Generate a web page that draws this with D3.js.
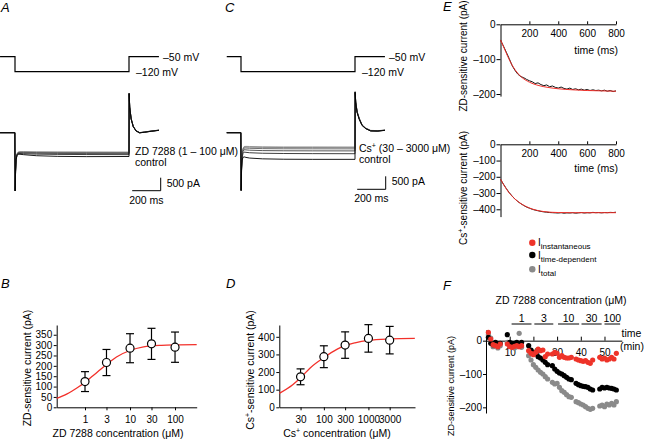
<!DOCTYPE html>
<html><head><meta charset="utf-8">
<script src="https://cdn.jsdelivr.net/npm/d3@7"></script>
<style>
body{margin:0;background:#fff}
svg{display:block;font-family:"Liberation Sans",Arial,sans-serif}
.axis path,.axis line{stroke:#000;stroke-width:1}
.axis text{font-size:10px;font-family:"Liberation Sans",Arial,sans-serif;fill:#000}
</style></head><body>
<svg id="c" width="654" height="441"></svg>
<script>
// ---------- DATA ----------
// Panels A / C : voltage protocol and current traces (time in ms, current in pA relative to holding)
const voltTime = [-105, 0, 800, 1010];
const voltLevel = [-50, -120, -50, -50];
const traceTime = [-105, -1, 1, 4, 8, 14, 22, 35, 60, 150, 300, 500, 800, 801, 805, 815, 830, 850, 875, 910, 960, 1010];
const zdTraces = [
  [0,0,-2240,-1450,-980,-810,-745,-730,-728,-735,-740,-742,-745, 1525,1000,550,250,80,5,30,70,100],
  [0,0,-2240,-1460,-990,-820,-755,-742,-740,-748,-752,-755,-758, 1520,995,545,245,78,3,28,68,98],
  [0,0,-2240,-1470,-1000,-830,-768,-756,-756,-765,-770,-772,-775, 1515,990,540,240,74,0,25,65,96],
  [0,0,-2240,-1480,-1010,-845,-785,-775,-778,-790,-798,-802,-805, 1510,985,535,236,70,-2,22,62,94],
  [0,0,-2240,-1490,-1025,-860,-805,-800,-808,-825,-835,-840,-845, 1505,980,530,232,66,-4,20,60,92]
];
const ctrlTraceA = [0,0,-2240,-1500,-1040,-880,-830,-830,-845,-885,-910,-920,-915, 1500,975,525,228,62,-6,18,56,90];
const csTraces = [
  [0,0,-2220,-1300,-820,-610,-530,-525,-530,-540,-545,-545,-548, 1580,1200,820,560,300,180,90,80,100],
  [0,0,-2220,-1310,-830,-625,-550,-548,-555,-565,-570,-572,-575, 1575,1190,810,550,295,175,85,76,98],
  [0,0,-2220,-1330,-860,-660,-590,-590,-600,-612,-618,-620,-622, 1570,1180,800,540,290,170,80,72,96],
  [0,0,-2220,-1360,-900,-720,-655,-660,-672,-688,-695,-698,-700, 1565,1170,790,530,285,165,75,68,94],
  [0,0,-2220,-1400,-950,-800,-745,-755,-770,-790,-800,-805,-808, 1560,1160,780,520,280,160,70,64,92]
];
const ctrlTraceC = [0,0,-2220,-1450,-1050,-950,-930,-950,-975,-1005,-1020,-1025,-1025, 1550,1150,770,510,275,155,65,60,90];

// Panel B : ZD 7288 dose-response
const zdConc = [1, 3, 10, 30, 100];
const zdMean = [124, 216, 285, 306, 290];
const zdErr = [48, 63, 70, 75, 73];
const zdFitConc = [0.235, 0.4, 0.7, 1, 1.5, 2, 3, 5, 10, 20, 50, 100, 303];
const zdFitVal = [43, 65, 97, 120, 152, 175, 207, 243, 274, 291, 299, 301, 302];
const zdYTicks = [0, 50, 100, 150, 200, 250, 300, 350];

// Panel D : Cs+ dose-response
const csConc = [30, 100, 300, 1000, 3000];
const csMean = [173, 287, 353, 391, 381];
const csErr = [45, 62, 75, 78, 78];
const csFitConc = [10, 20, 30, 50, 100, 200, 300, 500, 1000, 3000, 11000];
const csFitVal = [79, 128, 168, 225, 282, 330, 350, 366, 380, 388, 391];
const csYTicks = [0, 100, 200, 300, 400];

// Panel E : sensitive currents vs time (ms)
const eTime = [0,20,40,60,80,100,120,140,160,180,200,220,240,260,280,300,320,340,360,380,400,420,440,460,480,500,520,540,560,580,600,620,640,660,680,700,720,740,760,780,800];
const zdSens = [-45,-62,-80,-98,-118,-132,-143,-150,-153,-158,-162,-165,-170,-168,-173,-176,-174,-179,-177,-181,-183,-180,-184,-186,-183,-187,-185,-188,-186,-189,-187,-190,-188,-190,-189,-191,-189,-192,-190,-193,-191];
const csSens = [-215,-245,-272,-297,-318,-337,-352,-365,-376,-386,-393,-400,-405,-409,-413,-416,-418,-420,-421,-422,-423,-421,-424,-422,-423,-421,-424,-422,-420,-423,-421,-422,-419,-421,-420,-422,-420,-421,-419,-420,-418];
const zdFitTime = [0,25,50,75,100,125,150,200,250,300,400,500,600,700,800];
const zdFitCur = [-45,-68,-92,-113,-130,-143,-153,-166,-174,-179,-185,-188,-190,-191,-192];
const csFitTime = [0,50,100,150,200,250,300,400,500,800];
const csFitCur = [-215,-287,-337,-370,-392,-406,-414,-420,-421,-421];
const eXTicks = [200, 400, 600, 800];

// Panel F : time course (min)
const fTime = [1,2,3,4,5,6, 9,10,11,12,13,14,15, 18,19,20,21,22,23,24,25,26, 28,29,30,31,32,33,34,35,36, 38,39,40,41,42,43,44,45, 48,49,50,51,52,53,54,55];
const fInst = [25,5,-12,-15,-18,-10, -10,-18,-20,-17,-15,-18,-15, -30,-38,-42,-35,-25,-30,-28,-48,-40, -40,-35,-38,-50,-45,-50,-52,-52,-50, -55,-58,-60,-62,-60,-65,-68,-58, -50,-55,-52,-58,-55,-50,-55,-38];
const fTimeDep = [10,-8,-12,-5,-10,-8, 18,-5,-8,-8,-5,-10,-5, -15,-28,-35,-40,-48,-52,-58,-65,-72, -75,-85,-92,-97,-100,-105,-110,-115,-117, -128,-132,-135,-137,-138,-140,-145,-148, -145,-140,-142,-140,-142,-143,-145,-148];
const fTotal = [18,8,-18,-12,-22,-15, -5,-15,-20,-22,-18,22,-20, -45,-58,-72,-80,-88,-95,-100,-108,-115, -125,-130,-128,-140,-150,-155,-162,-168,-170, -183,-186,-190,-193,-198,-203,-206,-203, -196,-193,-198,-190,-193,-188,-193,-183];
const concLabels = ["1", "3", "10", "30", "100"];
const concStart = [10.8, 20.4, 30.4, 40.3, 50];
const concEnd = [19.2, 28.4, 39.3, 48.8, 56.6];
const fXTicks = [10, 20, 30, 40, 50];
const fYTicks = [0, -100, -200];

const legendNames = ["instantaneous", "time-dependent", "total"];
const legendColors = ["#ee3329", "#000000", "#8a8a8a"];

// ---------- DRAWING ----------
const svg = d3.select("#c");
const RED = "#f2302a";

function text(x, y, s, o = {}) {
  const t = svg.append("text").attr("x", x).attr("y", y)
    .attr("font-size", o.size || 10.5).attr("fill", "#000")
    .attr("text-anchor", o.anchor || "start").text(s);
  if (o.italic) t.attr("font-style", "italic");
  if (o.rotate) t.attr("transform", `rotate(-90,${x},${y})`);
  return t;
}
function line(x1, y1, x2, y2, w = 1, c = "#000") {
  svg.append("line").attr("x1", x1).attr("y1", y1).attr("x2", x2).attr("y2", y2)
    .attr("stroke", c).attr("stroke-width", w);
}

// panel letters
[["A",1,12],["C",225,12],["E",443,11],["B",1,288],["D",226,288],["F",443,290]].forEach(d =>
  text(d[1], d[2], d[0], {size: 13, italic: true}));

// ---- Panels A and C ----
function tracePanel(x0, xStart, traces, ctrl, sb, labels) {
  const x = d3.scaleLinear().domain([xStart, 1010]).range([x0 + xStart * 0.1425, x0 + 1010 * 0.1425]);
  const yV = d3.scaleLinear().domain([-50, -120]).range([56.7, 71.7]);
  const yI = d3.scaleLinear().domain([0, -500]).range([132.7, 145.7]);
  const vPts = voltTime.map((t, i) => [Math.max(t, xStart), voltLevel[i]]);
  svg.append("path").attr("d", d3.line().x(d => x(d[0])).y(d => yV(d[1])).curve(d3.curveStepAfter)(vPts))
    .attr("fill", "none").attr("stroke", "#000").attr("stroke-width", 1.2);
  const lg = d3.line().x(d => x(Math.max(d[0], xStart))).y(d => yI(d[1]));
  const greys = ["#9a9a9a", "#7d7d7d", "#5e5e5e", "#444", "#2a2a2a"];
  traces.forEach((tr, k) => {
    svg.append("path").attr("d", lg(traceTime.map((t, i) => [t, tr[i]])))
      .attr("fill", "none").attr("stroke", greys[k]).attr("stroke-width", 0.9);
  });
  svg.append("path").attr("d", lg(traceTime.map((t, i) => [t, ctrl[i]])))
    .attr("fill", "none").attr("stroke", "#000").attr("stroke-width", 0.9);
  // scale bar 500 pA / 200 ms
  const bx = sb[0], by = sb[1];
  const h = yI(-500) - yI(0), w = x(200) - x(0);
  line(bx, by - h, bx, by); line(bx - w, by, bx, by);
  text(bx + 6, by - 4, "500 pA");
  text(bx - w - 3, by + 13, "200 ms");
  text(x(800) + 34, 60.5, "\u201350 mV");
  text(x(800) + 7, 75.8, "\u2013120 mV");
  labels();
}
tracePanel(15, -105, zdTraces, ctrlTraceA, [160.7, 190.7], () => {
  text(135, 155, "ZD 7288 (1 \u2013 100 \u03bcM)");
  text(135, 165.5, "control");
});
tracePanel(241, -100, csTraces, ctrlTraceC, [385.7, 189.3], () => {
  const t = text(359, 151.5, "Cs");
  t.append("tspan").attr("dy", -4).attr("font-size", 7).text("+");
  t.append("tspan").attr("dy", 4).text(" (30 \u2013 3000 \u03bcM)");
  text(359, 163, "control");
});

// ---- Panels B and D ----
function dosePanel(o) {
  const x = d3.scaleLog().domain(o.xDom).range(o.xRange);
  const y = d3.scaleLinear().domain([0, o.yMax]).range([407.3, 325]);
  const g = svg.append("g");
  g.append("g").attr("class", "axis").attr("transform", "translate(0,407.3)")
    .call(d3.axisBottom(x).tickValues(o.conc).tickFormat(d3.format("d")).tickSize(3).tickSizeOuter(0).tickPadding(6));
  g.append("g").attr("class", "axis").attr("transform", `translate(${o.xRange[0]},0)`)
    .call(d3.axisLeft(y).tickValues(o.yTicks).tickSize(3).tickSizeOuter(0).tickPadding(1.5));
  svg.append("path").attr("d", d3.line().x(d => x(d[0])).y(d => y(d[1])).curve(d3.curveMonotoneX)(o.fitC.map((c, i) => [c, o.fitV[i]])))
    .attr("fill", "none").attr("stroke", RED).attr("stroke-width", 1.3);
  o.conc.forEach((c, i) => {
    const cx = x(c), y1 = y(o.mean[i] + o.err[i]), y2 = y(o.mean[i] - o.err[i]);
    line(cx, y1, cx, y2, 1.2); line(cx - 4, y1, cx + 4, y1, 1.2); line(cx - 4, y2, cx + 4, y2, 1.2);
    svg.append("circle").attr("cx", cx).attr("cy", y(o.mean[i])).attr("r", 4)
      .attr("fill", "#fff").attr("stroke", "#000").attr("stroke-width", 1.2);
  });
  o.labels();
}
dosePanel({xDom: [0.235, 303], xRange: [56.7, 196.7], yMax: 397, conc: zdConc, mean: zdMean, err: zdErr,
  fitC: zdFitConc, fitV: zdFitVal, yTicks: zdYTicks, labels: () => {
    text(118, 437, "ZD 7288 concentration (\u03bcM)", {anchor: "middle"});
    text(30.5, 368, "ZD-sensitive current (pA)", {anchor: "middle", rotate: true});
  }});
dosePanel({xDom: [10, 11100], xRange: [279.3, 415], yMax: 467, conc: csConc, mean: csMean, err: csErr,
  fitC: csFitConc, fitV: csFitVal, yTicks: csYTicks, labels: () => {
    const t = text(337, 437, "Cs", {anchor: "middle"});
    t.append("tspan").attr("dy", -4).attr("font-size", 7).text("+");
    t.append("tspan").attr("dy", 4).text(" concentration (\u03bcM)");
    const r = text(253.5, 370, "Cs", {anchor: "middle", rotate: true});
    r.append("tspan").attr("dy", -4).attr("font-size", 7).text("+");
    r.append("tspan").attr("dy", 4).text("-sensitive current (pA)");
  }});

// ---- Panel E ----
const xE = d3.scaleLinear().domain([0, 800]).range([500.5, 616]);
function ePanel(y, yTicks, trace, fitT, fitV) {
  svg.append("g").attr("class", "axis").attr("transform", `translate(500.5,0)`)
    .call(d3.axisLeft(y).tickValues(yTicks).tickFormat(d => d === 0 ? "0" : "\u2013" + Math.abs(d)).tickSize(4).tickSizeOuter(0).tickPadding(1));
  svg.append("g").attr("class", "axis").attr("transform", `translate(0,${y(0)})`)
    .call(d3.axisBottom(xE).tickValues(eXTicks).tickSize(-3).tickSizeOuter(0).tickPadding(6));
  svg.append("path").attr("d", d3.line().x((d, i) => xE(eTime[i])).y(d => y(d))(trace))
    .attr("fill", "none").attr("stroke", "#111").attr("stroke-width", 1);
  svg.append("path").attr("d", d3.line().x((d, i) => xE(fitT[i])).y(d => y(d)).curve(d3.curveMonotoneX)(fitV))
    .attr("fill", "none").attr("stroke", RED).attr("stroke-width", 1);
}
const yE1 = d3.scaleLinear().domain([0, -206]).range([24.3, 96.1]);
const yE2 = d3.scaleLinear().domain([0, -445]).range([144.3, 216.6]);
ePanel(yE1, [0, -100, -200], zdSens, zdFitTime, zdFitCur);
ePanel(yE2, [0, -100, -200, -300, -400], csSens, csFitTime, csFitCur);
text(618, 54, "time (ms)", {anchor: "end"});
text(618, 172, "time (ms)", {anchor: "end"});
text(467, 56, "ZD-sensitive current (pA)", {anchor: "middle", rotate: true, size: 10});
{
  const r = text(467, 188, "Cs", {anchor: "middle", rotate: true, size: 10});
  r.append("tspan").attr("dy", -4).attr("font-size", 7).text("+");
  r.append("tspan").attr("dy", 4).text("-sensitive current (pA)");
}

// legend
legendNames.forEach((n, i) => {
  const yy = [242.7, 255, 269.3][i];
  svg.append("circle").attr("cx", 532.3).attr("cy", yy).attr("r", 3.2).attr("fill", legendColors[i]);
  const t = text(538, yy + 3.5, "I", {size: 10});
  t.append("tspan").attr("dy", 3).attr("font-size", 8).text(n);
});

// ---- Panel F ----
const xF = d3.scaleLinear().domain([0, 57.3]).range([486, 621.8]);
const yF = d3.scaleLinear().domain([32, -217]).range([330, 413]);
svg.append("g").attr("class", "axis").attr("transform", "translate(486,0)")
  .call(d3.axisLeft(yF).tickValues(fYTicks).tickFormat(d => d === 0 ? "0" : "\u2013" + Math.abs(d)).tickSize(3).tickSizeOuter(0).tickPadding(1));
svg.append("g").attr("class", "axis").attr("transform", `translate(0,${yF(0)})`)
  .call(d3.axisBottom(xF).tickValues(fXTicks).tickSize(-4).tickSizeOuter(0).tickPadding(8));
[[fTotal, legendColors[2]], [fTimeDep, legendColors[1]], [fInst, legendColors[0]]].forEach(([vals, col]) => {
  svg.append("g").selectAll("circle").data(vals).join("circle")
    .attr("cx", (d, i) => xF(fTime[i])).attr("cy", d => yF(d)).attr("r", 2.6).attr("fill", col);
});
concLabels.forEach((l, i) => {
  line(xF(concStart[i]), 324, xF(concEnd[i]), 324, 1);
  text((xF(concStart[i]) + xF(concEnd[i])) / 2, 321.5, l, {anchor: "middle", size: 10.5});
});
text(561, 303.5, "ZD 7288 concentration (\u03bcM)", {anchor: "middle"});
text(621.5, 337, "time");
text(620, 349.5, "(min)");
text(454, 386, "ZD-sensitive current (pA)", {anchor: "middle", rotate: true, size: 9});
</script>
</body></html>
